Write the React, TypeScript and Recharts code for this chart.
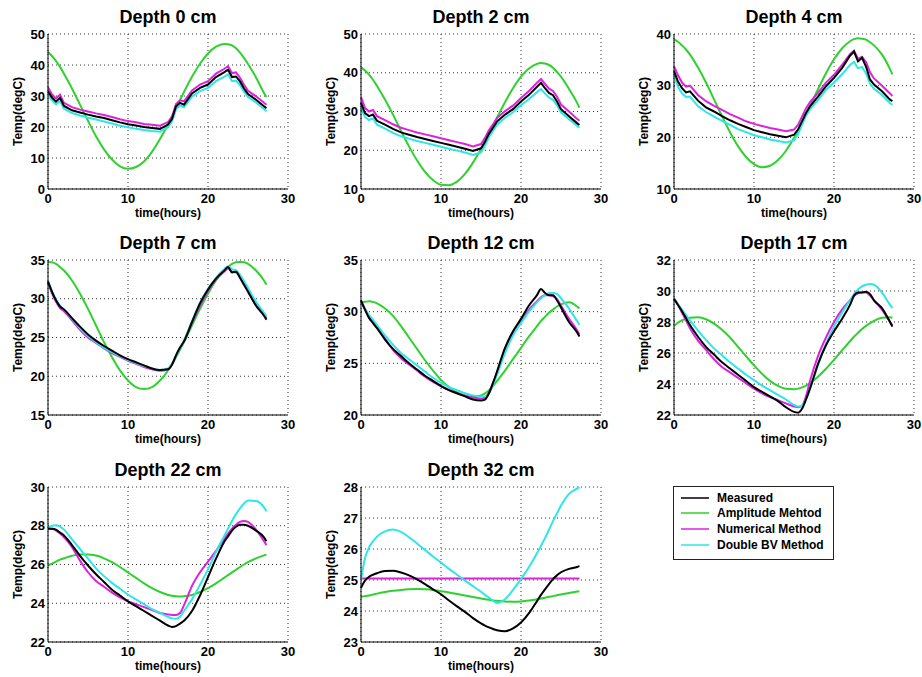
import { LineChart, Line, XAxis, YAxis, CartesianGrid } from 'recharts'

// sample times (hours), shared by every depth
const hours = [0, 0.5, 1, 1.5, 2, 3, 4, 5, 6, 7, 8, 9, 10, 11, 12, 13, 14, 15, 15.5, 16, 16.5, 17, 18, 19, 20, 21, 22, 22.5, 23, 23.5, 24, 24.5, 25, 26, 27, 27.3]

const depths = [0, 2, 4, 7, 12, 17, 22, 32]
const seriesNames = ['Measured', 'Amplitude Mehtod', 'Numerical Method', 'Double BV Method']
const xTicks = [0, 10, 20, 30]
const yDomains = [[0, 50], [10, 50], [10, 40], [15, 35], [20, 35], [22, 32], [22, 30], [23, 28]]
const yTicks = [
  [0, 10, 20, 30, 40, 50],
  [10, 20, 30, 40, 50],
  [10, 20, 30, 40],
  [15, 20, 25, 30, 35],
  [20, 25, 30, 35],
  [22, 24, 26, 28, 30, 32],
  [22, 24, 26, 28, 30],
  [23, 24, 25, 26, 27, 28],
]

// depth 0 cm
const measured0 = [31.5, 29.5, 28.2, 29.4, 26.8, 25.4, 24.7, 24.0, 23.4, 22.9, 22.2, 21.5, 20.9, 20.5, 20.0, 19.7, 19.4, 20.8, 22.6, 26.7, 27.8, 27.2, 30.8, 32.6, 33.7, 36.1, 37.6, 38.5, 36.1, 36.3, 34.7, 32.4, 30.6, 28.8, 26.7, 26.1]
const amplitude0 = [44.2, 42.9, 41.3, 39.4, 37.2, 32.4, 27.2, 22.0, 17.0, 12.8, 9.5, 7.3, 6.5, 7.1, 8.9, 12.0, 16.1, 20.9, 23.5, 26.1, 28.7, 31.3, 36.2, 40.4, 43.7, 45.9, 46.8, 46.7, 46.3, 45.4, 44.0, 42.3, 40.3, 36.0, 31.0, 29.7]
const numerical0 = [32.8, 30.5, 29.2, 30.4, 27.8, 26.4, 25.6, 25.0, 24.4, 23.9, 23.2, 22.5, 21.9, 21.5, 21.0, 20.7, 20.4, 21.6, 23.4, 27.4, 28.6, 28.3, 31.8, 33.7, 34.8, 37.2, 38.7, 39.6, 37.4, 37.6, 35.9, 33.6, 31.7, 29.9, 27.8, 27.2]
const doubleBV0 = [30.3, 28.6, 27.3, 28.4, 25.9, 24.5, 23.7, 23.0, 22.4, 21.8, 21.1, 20.4, 19.9, 19.4, 19.0, 18.7, 18.5, 19.9, 21.8, 25.7, 27.0, 26.4, 29.8, 31.6, 32.6, 34.8, 36.2, 37.0, 34.8, 35.0, 33.5, 31.4, 29.7, 27.9, 25.8, 25.1]

// depth 2 cm
const measured2 = [32.2, 29.6, 28.8, 29.2, 27.6, 26.6, 25.5, 24.6, 24.0, 23.4, 22.9, 22.4, 21.9, 21.4, 20.9, 20.4, 19.8, 20.5, 22.2, 24.3, 25.8, 27.4, 29.2, 30.6, 32.6, 34.3, 36.4, 37.4, 36.0, 34.8, 34.2, 32.6, 30.6, 28.8, 27.0, 26.5]
const amplitude2 = [41.4, 40.6, 39.5, 38.2, 36.6, 33.1, 29.2, 25.0, 21.0, 17.4, 14.4, 12.3, 11.1, 11.0, 11.9, 13.9, 16.8, 20.3, 22.2, 24.2, 26.3, 28.4, 32.4, 36.0, 39.0, 41.1, 42.3, 42.5, 42.4, 42.0, 41.3, 40.2, 39.0, 35.8, 32.3, 31.0]
const numerical2 = [33.7, 30.9, 30.0, 30.4, 28.8, 27.8, 26.7, 25.8, 25.2, 24.6, 24.1, 23.6, 23.1, 22.6, 22.1, 21.6, 21.0, 21.6, 23.2, 25.2, 26.7, 28.3, 30.1, 31.5, 33.5, 35.3, 37.4, 38.4, 37.1, 35.9, 35.3, 33.8, 31.8, 30.0, 28.1, 27.6]
const doubleBV2 = [31.0, 28.6, 27.8, 28.2, 26.6, 25.6, 24.5, 23.6, 23.0, 22.4, 21.9, 21.4, 20.9, 20.4, 19.9, 19.4, 18.8, 19.4, 21.2, 23.4, 25.0, 26.6, 28.4, 29.8, 31.6, 33.2, 35.0, 35.8, 34.6, 33.6, 33.0, 31.6, 29.8, 28.0, 26.3, 25.8]

// depth 4 cm
const measured4 = [32.8, 30.8, 29.5, 28.7, 28.9, 27.1, 25.8, 25.0, 24.1, 23.3, 22.6, 22.0, 21.4, 21.0, 20.6, 20.3, 20.0, 20.5, 21.5, 23.1, 24.7, 26.0, 27.9, 29.9, 31.5, 33.4, 35.8, 36.6, 34.7, 35.4, 33.7, 31.2, 30.2, 28.9, 27.3, 27.0]
const amplitude4 = [38.9, 38.5, 37.8, 37.0, 36.0, 33.5, 30.6, 27.35, 24.1, 21.0, 18.3, 16.2, 14.8, 14.2, 14.5, 15.6, 17.4, 19.9, 21.3, 22.8, 24.4, 26.05, 29.3, 32.4, 35.1, 37.2, 38.6, 39.0, 39.2, 39.1, 38.9, 38.4, 37.8, 36.0, 33.2, 32.2]
const numerical4 = [33.8, 32.0, 30.6, 29.8, 30.0, 28.2, 27.0, 26.1, 25.3, 24.5, 23.8, 23.1, 22.6, 22.2, 21.8, 21.5, 21.2, 21.5, 22.4, 24.0, 25.6, 26.8, 28.6, 30.6, 32.1, 34.0, 36.1, 36.8, 35.2, 35.6, 34.6, 32.6, 31.4, 30.0, 28.5, 28.0]
const doubleBV4 = [32.0, 29.8, 28.5, 27.8, 27.9, 26.0, 24.9, 24.0, 23.2, 22.4, 21.6, 21.0, 20.4, 20.0, 19.6, 19.3, 19.0, 19.4, 20.6, 22.4, 24.2, 25.4, 27.2, 29.2, 30.6, 32.2, 34.0, 34.6, 33.4, 33.6, 32.4, 30.4, 29.4, 28.2, 26.6, 26.3]

// depth 7 cm
const measured7 = [32.2, 30.9, 29.8, 29.0, 28.6, 27.5, 26.4, 25.4, 24.6, 23.9, 23.3, 22.7, 22.2, 21.8, 21.4, 21.0, 20.8, 20.9, 21.5, 22.7, 23.7, 24.5, 27.0, 29.4, 31.2, 32.6, 33.6, 34.1, 33.4, 33.5, 32.7, 31.8, 30.9, 29.1, 27.8, 27.3]
const amplitude7 = [34.75, 34.7, 34.5, 34.1, 33.65, 32.35, 30.65, 28.7, 26.55, 24.4, 22.45, 20.75, 19.45, 18.6, 18.35, 18.6, 19.45, 20.75, 21.6, 22.45, 23.4, 24.4, 26.55, 28.7, 30.65, 32.35, 33.65, 34.1, 34.5, 34.7, 34.75, 34.7, 34.5, 33.65, 32.35, 31.8]
const numerical7 = [32.1, 30.7, 29.6, 28.8, 28.4, 27.2, 26.0, 25.0, 24.3, 23.6, 23.0, 22.5, 22.0, 21.6, 21.2, 20.9, 20.7, 20.9, 21.5, 22.6, 23.6, 24.6, 26.9, 29.1, 31.0, 32.5, 33.5, 33.9, 33.5, 33.4, 32.8, 32.0, 31.1, 29.3, 28.0, 27.5]
const doubleBV7 = [32.3, 31.0, 29.9, 29.1, 28.6, 27.4, 26.2, 25.2, 24.4, 23.7, 23.1, 22.6, 22.1, 21.7, 21.3, 21.0, 20.8, 21.0, 21.6, 22.6, 23.6, 24.6, 27.1, 29.5, 31.3, 32.7, 33.8, 34.2, 33.8, 33.7, 33.1, 32.3, 31.4, 29.6, 28.2, 27.7]

// depth 12 cm
const measured12 = [31.1, 30.2, 29.4, 28.9, 28.4, 27.3, 26.4, 25.7, 25.0, 24.4, 23.8, 23.3, 22.8, 22.4, 22.1, 21.8, 21.5, 21.4, 21.5, 22.1, 23.1, 24.2, 26.5, 28.1, 29.3, 30.6, 31.6, 32.2, 31.8, 31.6, 31.6, 31.1, 30.4, 29.0, 28.0, 27.6]
const amplitude12 = [30.9, 30.95, 31.0, 30.95, 30.8, 30.3, 29.6, 28.6, 27.5, 26.4, 25.3, 24.3, 23.4, 22.7, 22.2, 21.9, 21.8, 21.9, 22.1, 22.4, 22.8, 23.3, 24.3, 25.4, 26.5, 27.6, 28.6, 29.1, 29.5, 29.9, 30.2, 30.5, 30.7, 30.9, 30.5, 30.3]
const numerical12 = [31.0, 30.2, 29.5, 29.0, 28.5, 27.4, 26.3, 25.5, 24.9, 24.3, 23.7, 23.2, 22.8, 22.4, 22.1, 21.9, 21.7, 21.6, 21.7, 22.2, 23.1, 24.1, 26.3, 27.9, 29.0, 30.2, 31.0, 31.4, 31.6, 31.6, 31.5, 31.2, 30.6, 29.3, 28.2, 27.8]
const doubleBV12 = [31.0, 30.3, 29.7, 29.2, 28.7, 27.7, 26.8, 26.0, 25.4, 24.8, 24.2, 23.6, 23.1, 22.7, 22.4, 22.1, 21.9, 21.8, 21.8, 22.1, 22.9, 23.9, 26.0, 27.7, 28.9, 30.0, 30.9, 31.3, 31.6, 31.8, 31.8, 31.7, 31.3, 30.3, 29.1, 28.7]

// depth 17 cm
const measured17 = [29.5, 29.1, 28.7, 28.25, 27.8, 27.05, 26.4, 25.9, 25.4, 25.0, 24.6, 24.2, 23.8, 23.5, 23.2, 22.9, 22.5, 22.2, 22.15, 22.4, 23.0, 23.7, 25.3, 26.5, 27.4, 28.2, 29.1, 29.7, 29.9, 29.9, 29.95, 29.8, 29.4, 28.9, 28.0, 27.7]
const amplitude17 = [27.75, 27.95, 28.1, 28.2, 28.27, 28.3, 28.18, 27.9, 27.5, 27.0, 26.4, 25.8, 25.2, 24.66, 24.2, 23.88, 23.69, 23.66, 23.7, 23.78, 23.9, 24.06, 24.47, 24.98, 25.56, 26.16, 26.76, 27.05, 27.3, 27.55, 27.75, 27.92, 28.08, 28.27, 28.3, 28.28]
const numerical17 = [29.5, 29.1, 28.6, 28.1, 27.6, 26.8, 26.2, 25.6, 25.1, 24.75, 24.4, 24.05, 23.7, 23.4, 23.15, 22.95, 22.75, 22.55, 22.5, 22.6, 23.2, 24.2, 25.8, 27.0, 28.0, 28.8, 29.4, 29.7, 29.85, 29.9, 29.9, 29.7, 29.4, 28.8, 28.0, 27.8]
const doubleBV17 = [29.5, 29.15, 28.8, 28.45, 28.1, 27.45, 26.85, 26.3, 25.85, 25.4, 25.0, 24.6, 24.25, 23.9, 23.6, 23.3, 23.0, 22.65, 22.55, 22.6, 23.0, 23.7, 25.2, 26.6, 27.7, 28.6, 29.4, 29.8, 30.1, 30.3, 30.4, 30.45, 30.4, 29.9, 29.1, 28.9]

// depth 22 cm
const measured22 = [27.85, 27.85, 27.8, 27.65, 27.5, 27.0, 26.45, 25.95, 25.5, 25.1, 24.7, 24.4, 24.1, 23.85, 23.6, 23.35, 23.1, 22.85, 22.78, 22.82, 22.95, 23.1, 23.6, 24.4, 25.35, 26.3, 27.15, 27.45, 27.75, 27.95, 28.05, 28.05, 28.0, 27.75, 27.4, 27.2]
const amplitude22 = [25.95, 26.05, 26.15, 26.25, 26.32, 26.45, 26.52, 26.52, 26.46, 26.32, 26.12, 25.87, 25.59, 25.31, 25.03, 24.78, 24.58, 24.43, 24.39, 24.36, 24.35, 24.36, 24.43, 24.58, 24.78, 25.03, 25.31, 25.45, 25.59, 25.73, 25.87, 26.0, 26.12, 26.32, 26.47, 26.5]
const numerical22 = [27.85, 27.85, 27.75, 27.6, 27.4, 26.9, 26.2, 25.6, 25.15, 24.85, 24.55, 24.3, 24.1, 23.95, 23.8, 23.65, 23.5, 23.42, 23.4, 23.4, 23.5, 23.9, 24.9, 25.6, 26.15, 26.7, 27.3, 27.6, 27.85, 28.05, 28.2, 28.25, 28.2, 27.8, 27.2, 27.0]
const doubleBV22 = [27.9, 28.0, 28.02, 27.95, 27.8, 27.3, 26.8, 26.3, 25.8, 25.4, 25.05, 24.75, 24.45, 24.2, 23.95, 23.7, 23.5, 23.3, 23.22, 23.2, 23.3, 23.6, 24.2, 24.95, 25.75, 26.65, 27.45, 27.85, 28.25, 28.6, 28.9, 29.15, 29.3, 29.28, 28.95, 28.75]

// depth 32 cm
const measured32 = [24.75, 24.98, 25.1, 25.17, 25.22, 25.29, 25.3, 25.24, 25.15, 25.02, 24.87, 24.7, 24.54, 24.34, 24.15, 23.97, 23.77, 23.6, 23.53, 23.47, 23.42, 23.38, 23.35, 23.44, 23.63, 23.93, 24.32, 24.52, 24.7, 24.87, 25.03, 25.15, 25.25, 25.36, 25.42, 25.45]
const amplitude32 = [24.45, 24.48, 24.5, 24.53, 24.56, 24.61, 24.65, 24.68, 24.7, 24.71, 24.7, 24.68, 24.64, 24.6, 24.55, 24.5, 24.45, 24.4, 24.38, 24.36, 24.34, 24.33, 24.31, 24.3, 24.31, 24.34, 24.38, 24.4, 24.43, 24.46, 24.48, 24.51, 24.53, 24.58, 24.63, 24.64]
const numerical32 = [25.05, 25.05, 25.05, 25.05, 25.05, 25.05, 25.05, 25.05, 25.05, 25.05, 25.05, 25.05, 25.05, 25.05, 25.05, 25.05, 25.05, 25.05, 25.05, 25.05, 25.05, 25.05, 25.05, 25.05, 25.05, 25.05, 25.05, 25.05, 25.05, 25.05, 25.05, 25.05, 25.05, 25.05, 25.05, 25.05]
const doubleBV32 = [25.0, 25.7, 26.05, 26.25, 26.4, 26.57, 26.63, 26.55, 26.38, 26.18, 25.97, 25.76, 25.56, 25.36, 25.17, 24.98, 24.8, 24.62, 24.52, 24.43, 24.33, 24.26, 24.38, 24.68, 25.03, 25.42, 25.86, 26.1, 26.35, 26.62, 26.9, 27.15, 27.4, 27.78, 27.95, 28.0]

const measuredAll = [measured0, measured2, measured4, measured7, measured12, measured17, measured22, measured32]
const amplitudeAll = [amplitude0, amplitude2, amplitude4, amplitude7, amplitude12, amplitude17, amplitude22, amplitude32]
const numericalAll = [numerical0, numerical2, numerical4, numerical7, numerical12, numerical17, numerical22, numerical32]
const doubleBVAll = [doubleBV0, doubleBV2, doubleBV4, doubleBV7, doubleBV12, doubleBV17, doubleBV22, doubleBV32]

const colors = ['#000000', '#2ed12e', '#dd22dd', '#2ee6e6']
const font = '"Liberation Sans", Arial, sans-serif'

// plot-area corners of the 3x3 subplot grid
const colLeft = [48, 361, 674]
const rowTop = [34, 260, 487]

const tickStyle = { fill: '#000', fontSize: 13, fontWeight: 'bold', fontFamily: font }
const labelStyle = { fill: '#000', fontSize: 12, fontWeight: 'bold', fontFamily: font }

function DepthPanel({ idx }: { idx: number }) {
  const left = colLeft[idx % 3]
  const top = rowTop[Math.floor(idx / 3)]
  const noisy = depths[idx] <= 4
  const data = hours.map((t, i) => ({
    t,
    measured: measuredAll[idx][i],
    amplitude: amplitudeAll[idx][i],
    numerical: numericalAll[idx][i],
    doubleBV: doubleBVAll[idx][i],
  }))
  const jag = noisy ? 'linear' : 'monotone'

  return (
    <div style={{ position: 'absolute', left: left - 60, top: top - 30, width: 310, height: 225 }}>
      <div
        style={{
          position: 'absolute', left: 60, top: 0, width: 240, lineHeight: '26px',
          textAlign: 'center', fontSize: 18, fontWeight: 'bold', fontFamily: font, color: '#000',
        }}
      >
        Depth {depths[idx]} cm
      </div>
      <LineChart width={310} height={225} data={data} margin={{ top: 30, right: 10, bottom: 0, left: 0 }}>
        <CartesianGrid stroke="#333" strokeDasharray="1 3" />
        <XAxis
          dataKey="t" type="number" domain={[0, 30]} ticks={xTicks} interval={0}
          height={40} tickLine={false} tickSize={0} tickMargin={5}
          axisLine={{ stroke: '#000' }} tick={tickStyle}
          label={{ value: 'time(hours)', position: 'center', dy: 4, ...labelStyle }}
        />
        <YAxis
          type="number" domain={yDomains[idx]} ticks={yTicks[idx]} interval={0}
          width={60} tickLine={false} tickSize={0} tickMargin={3}
          axisLine={{ stroke: '#000' }} tick={tickStyle}
          label={{ value: 'Temp(degC)', position: 'center', angle: -90, ...labelStyle }}
        />
        <Line type="monotone" dataKey="amplitude" stroke={colors[1]} strokeWidth={2} dot={false} activeDot={false} isAnimationActive={false} />
        <Line type={jag} dataKey="numerical" stroke={colors[2]} strokeWidth={2} dot={false} activeDot={false} isAnimationActive={false} />
        <Line type={jag} dataKey="doubleBV" stroke={colors[3]} strokeWidth={2} dot={false} activeDot={false} isAnimationActive={false} />
        <Line type={jag} dataKey="measured" stroke={colors[0]} strokeWidth={2} dot={false} activeDot={false} isAnimationActive={false} />
      </LineChart>
    </div>
  )
}

function LegendBox() {
  return (
    <div
      style={{
        position: 'absolute', left: 673, top: 486, width: 159, height: 69,
        border: '1px solid #222', background: '#fff', paddingTop: 3, boxSizing: 'content-box',
      }}
    >
      {seriesNames.map((name, i) => (
        <div key={name} style={{ display: 'flex', alignItems: 'center', height: 15.6 }}>
          <svg width={43} height={10} style={{ flex: 'none' }}>
            <line x1={7} y1={5} x2={35} y2={5} stroke={colors[i]} strokeWidth={1.5} />
          </svg>
          <span style={{ fontSize: 12, fontWeight: 'bold', fontFamily: font, color: '#000', whiteSpace: 'nowrap' }}>
            {name}
          </span>
        </div>
      ))}
    </div>
  )
}

export default function App() {
  return (
    <div style={{ position: 'absolute', left: 0, top: 0, width: 922, height: 677, background: '#fff', overflow: 'hidden' }}>
      {depths.map((d, i) => (
        <DepthPanel key={d} idx={i} />
      ))}
      <LegendBox />
    </div>
  )
}
